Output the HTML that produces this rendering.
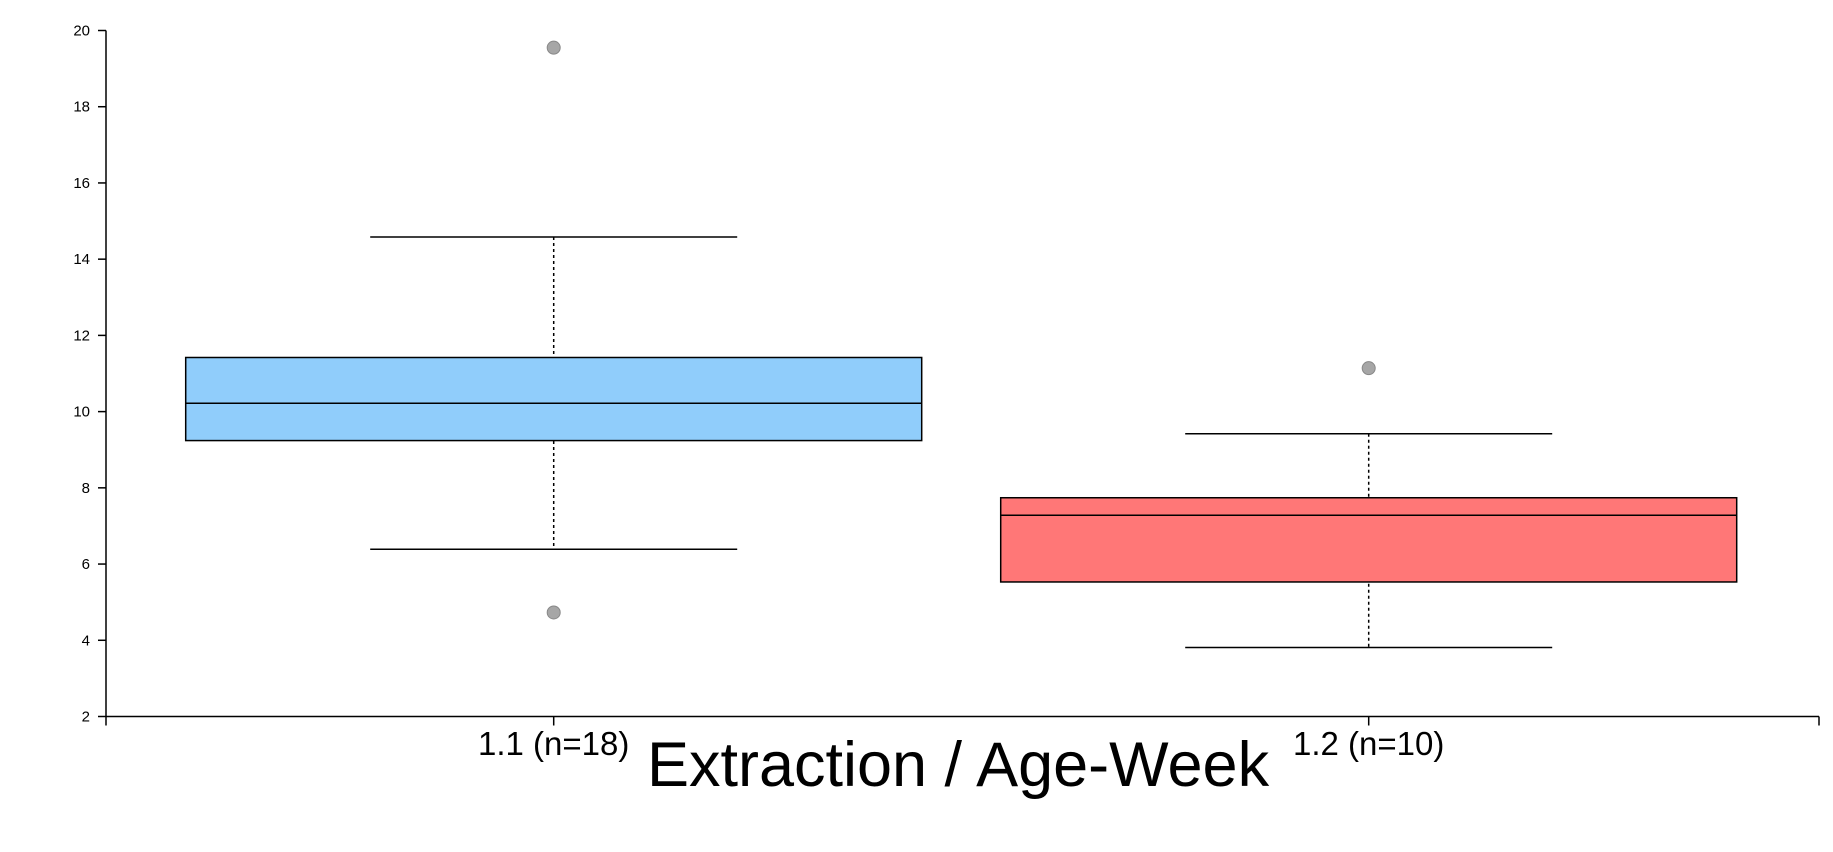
<!DOCTYPE html>
<html><head><meta charset="utf-8"><style>
html,body{margin:0;padding:0;background:#fff;}
svg{display:block;font-family:"Liberation Sans",sans-serif;}
</style></head><body>
<svg id="chart" width="1833" height="852"></svg>
<script>
const categories = ["1.1 (n=18)", "1.2 (n=10)"];
const q1Values = [9.24, 5.53];
const medianValues = [10.22, 7.28];
const q3Values = [11.42, 7.74];
const lowerWhiskers = [6.39, 3.81];
const upperWhiskers = [14.58, 9.42];
const outliers = [[19.55, 4.73], [11.14]];
const fills = ["#90cdfb", "#ff7777"];
const yTicks = [2, 4, 6, 8, 10, 12, 14, 16, 18, 20];

const NS = "http://www.w3.org/2000/svg";
const svgEl = document.getElementById("chart");
const plotL = 106, plotR = 1819, plotT = 30.5, plotB = 716.5;
const yMin = 2, yMax = 20;
function yScale(v){ return plotB - (v - yMin) / (yMax - yMin) * (plotB - plotT); }
function xc(i){ return 553.7 + 815 * i; }
function mk(tag, attrs){ const el = document.createElementNS(NS, tag); for (const k in attrs) el.setAttribute(k, attrs[k]); svgEl.appendChild(el); return el; }

let ax = mk("line", {x1:plotL, x2:plotL, y1:plotT, y2:plotB, stroke:"#000", "stroke-width":1.5});


ax = mk("line", {x1:plotL, x2:plotR, y1:plotB, y2:plotB, stroke:"#000", "stroke-width":1.5});


[plotL, plotR].forEach(function(xx){
  const t = mk("line", {x1:xx, x2:xx, y1:plotB, y2:plotB+9, stroke:"#000", "stroke-width":1.5});
  
  
});
yTicks.forEach(function(v){
  const t = mk("line", {x1:plotL-8, x2:plotL, y1:yScale(v), y2:yScale(v), stroke:"#000", "stroke-width":1.5});
  
  
  const l = mk("text", {x:plotL-16, y:yScale(v)+5, "text-anchor":"end", "font-size":15});
  l.textContent = v;
  
  
});

categories.forEach(function(c, i){
  const cx = xc(i), bw = 736, cw = 367;
  const s = mk("line", {x1:cx, x2:cx, y1:yScale(upperWhiskers[i]), y2:yScale(lowerWhiskers[i]), stroke:"#000", "stroke-width":1.5, "stroke-dasharray":"3,3"});
  
  
  const r = mk("rect", {x:cx-bw/2, y:yScale(q3Values[i]), width:bw, height:yScale(q1Values[i])-yScale(q3Values[i]), fill:fills[i], stroke:"#000", "stroke-width":1.5});
  
  
  const m = mk("line", {x1:cx-bw/2, x2:cx+bw/2, y1:yScale(medianValues[i]), y2:yScale(medianValues[i]), stroke:"#000", "stroke-width":1.5});
  
  
  [upperWhiskers[i], lowerWhiskers[i]].forEach(function(v){
    const w = mk("line", {x1:cx-cw/2, x2:cx+cw/2, y1:yScale(v), y2:yScale(v), stroke:"#000", "stroke-width":1.5});
    
    
  });
  outliers[i].forEach(function(v){
    const o = mk("circle", {cx:cx, cy:yScale(v), r:6.5, fill:"#a6a6a6", stroke:"#888", "stroke-width":1});
    
    
  });
  const t = mk("line", {x1:cx, x2:cx, y1:plotB, y2:plotB+9, stroke:"#000", "stroke-width":1.5});
  
  
  const l = mk("text", {x:cx, y:755, "text-anchor":"middle", "font-size":33});
  l.textContent = c;
  
  
});
const title = mk("text", {x:958, y:786, "text-anchor":"middle", "font-size":63});
title.textContent = "Extraction / Age-Week";


</script>
</body></html>
